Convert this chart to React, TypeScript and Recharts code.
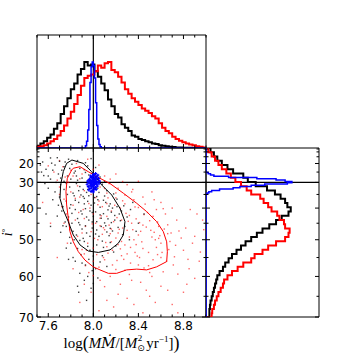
import React from 'react';
import { ScatterChart, Scatter, XAxis, YAxis, ReferenceLine } from 'recharts';

// ---------- axes ----------
const X_MIN = 7.5;
const X_MAX = 9.0;
const I_TOP = 0;
const I_BOTTOM = 70;
const xTicks = [7.5, 7.6, 7.7, 7.8, 7.9, 8.0, 8.1, 8.2, 8.3, 8.4, 8.5, 8.6, 8.7, 8.8, 8.9, 9.0];
const xMajor = [7.6, 8.0, 8.4, 8.8];
const iTicks = [5, 10, 15, 20, 25, 30, 35, 40, 45, 50, 55, 60, 65, 70];
const iMajor = [20, 30, 40, 50, 60, 70];
const refX = 8.0;
const refI = 30;
const COUNT_MAX = 100;

// ---------- top histograms (x = log M Mdot) ----------
const topBinStart = 7.5;
const topBinWidth = 0.03;
const topBlack = [2, 4, 6, 9, 12, 17, 22, 30, 37, 44, 52, 57, 65, 70, 76, 73, 74, 68, 63, 57, 51, 43, 37, 30, 27, 21, 18, 15, 11, 10, 8, 7, 6, 5, 4, 3.5, 2.5, 2, 1.5, 1.2, 0.8, 0.5, 0.4, 0.3, 0.3, 0.2, 0.1, 0.1, 0, 0];
const topRed = [1, 1.5, 2.5, 4, 6, 8, 11, 15, 20, 26, 32, 39, 47, 55, 62, 64, 65, 68, 73, 71, 75, 76, 69, 67, 63, 58, 52, 48, 44, 41, 38, 35, 33, 31, 28, 26, 22, 18, 15, 13, 10, 8, 6.5, 5, 4, 3, 2.5, 1.5, 1, 0.5];
const topBlueStart = 7.93;
const topBlueWidth = 0.01;
const topBlue = [2, 6, 16, 34, 58, 72, 76, 73, 62, 40, 20, 8, 3, 1];

// ---------- side histograms (bins in cos i) ----------
const sideBinStart = 0.34;
const sideBinWidth = 0.0165;
const sideBlack = [3, 3, 3.5, 4, 5, 6, 7, 8, 9, 10, 12, 15, 17, 20, 23, 27, 31, 35, 40, 45, 50, 56, 62, 67, 73, 75, 72, 70, 66, 61, 54, 44, 37, 33, 24, 19, 14, 10, 7, 4];
const sideRed = [5, 5.5, 7, 8, 9.5, 11, 13, 15, 16, 19, 23, 28, 33, 40, 43, 50, 55, 62, 70, 73, 74, 70, 69, 65, 63, 58, 55, 51, 48, 40, 36, 31, 26, 22, 18, 14, 11, 8, 5, 2];
const sideBlueStart = 0.82;
const sideBlueWidth = 0.005;
const sideBlue = [1, 2.5, 5, 12, 24, 30, 40, 52, 72, 76, 70, 62, 45, 20, 7, 4, 2];

// ---------- contours (x, i in degrees) ----------
const blackContour: [number, number][] = [
  [7.81, 17.6], [7.91, 19.9], [7.985, 24.8], [8.074, 31.1], [8.163, 35.2], [8.237, 40.1], [8.281, 44.5],
  [8.266, 48.6], [8.222, 51.0], [8.148, 52.9], [8.044, 53.6], [7.955, 53.2], [7.882, 51.5], [7.822, 48.6],
  [7.778, 44.5], [7.733, 40.6], [7.704, 36.5], [7.71, 31.1], [7.733, 24.8], [7.763, 19.9], [7.81, 17.6],
];
const redContour: [number, number][] = [
  [7.822, 22.9], [7.882, 22.0], [7.955, 24.8], [8.059, 28.1], [8.148, 30.5], [8.266, 34.5], [8.385, 38.3],
  [8.473, 41.2], [8.562, 44.5], [8.621, 47.6], [8.651, 50.6], [8.657, 53.4], [8.651, 56.1], [8.562, 57.5],
  [8.473, 58.3], [8.385, 58.1], [8.296, 58.3], [8.207, 59.2], [8.133, 59.2], [8.059, 58.3], [7.999, 57.5],
  [7.926, 55.7], [7.867, 53.4], [7.822, 50.6], [7.793, 47.6], [7.778, 43.4], [7.763, 38.9], [7.757, 33.9],
  [7.769, 28.1], [7.808, 23.9], [7.822, 22.9],
];

// ---------- scatter samples (x, i in degrees) ----------
const blackDots: [number, number][] = [
  [7.62, 16], [7.78, 17], [7.86, 18], [7.55, 19], [7.93, 19.5], [7.7, 18.5], [7.98, 16.5],
  [7.66, 21], [7.74, 22], [7.81, 20.5], [7.88, 23], [7.95, 21.5], [7.58, 23.5], [7.84, 24.5], [7.72, 24], [8.02, 22.5], [7.53, 21],
  [7.69, 26], [7.77, 27], [7.83, 25.5], [7.9, 28], [7.96, 26.5], [8.06, 27.5], [7.62, 28.5], [7.74, 29.5], [7.86, 29], [7.93, 25.2], [7.56, 26.8], [8.1, 29.6],
  [7.71, 31], [7.79, 32], [7.85, 30.5], [7.91, 33], [7.97, 31.5], [8.04, 32.5], [8.12, 33.5], [7.66, 34], [7.82, 34.5], [7.88, 31.8], [7.94, 34.2], [8.08, 30.8], [7.6, 32.5], [8.18, 34.8],
  [7.7, 36], [7.76, 37.5], [7.83, 35.5], [7.87, 38], [7.92, 36.5], [7.98, 39], [8.03, 35.8], [8.09, 37.2], [8.15, 38.5], [8.21, 36.8], [7.73, 39.5], [7.8, 38.8], [7.95, 37.6], [8.01, 36.2], [8.06, 39.7], [7.64, 37], [8.27, 39.2], [7.89, 35.2],
  [7.72, 41], [7.78, 43], [7.84, 40.5], [7.9, 42], [7.96, 44], [8.02, 41.3], [8.07, 43.4], [8.13, 40.6], [8.19, 42.5], [8.24, 44.2], [7.75, 44.6], [7.87, 44.8], [7.93, 40.2], [8.0, 42.8], [8.1, 44.9], [7.81, 41.8], [8.16, 41.4], [7.68, 42.7], [8.3, 43],
  [7.76, 46], [7.82, 47.5], [7.88, 45.5], [7.94, 48], [7.99, 46.5], [8.05, 49], [8.11, 45.8], [8.17, 47.4], [8.22, 46.3], [7.79, 49.3], [7.91, 49.6], [8.03, 47.1], [8.14, 48.8], [7.85, 48.6], [7.71, 47.8], [8.26, 48.5],
  [7.8, 51], [7.86, 52.5], [7.92, 50.5], [7.97, 53], [8.03, 51.5], [8.09, 52.2], [8.15, 50.8], [7.89, 54.2], [8.0, 54.6], [7.76, 52.4], [8.2, 51.8], [7.95, 51.9],
  [7.84, 56], [7.93, 57], [7.99, 58.5], [8.06, 56.2], [7.88, 59.2], [8.12, 57.4], [7.78, 55.5],
  [7.92, 61], [7.98, 63], [7.86, 62.5], [8.04, 60.4],
  [8.35, 38], [8.4, 45], [8.32, 50], [7.52, 35], [7.58, 42], [7.62, 46], [8.45, 42],
  [7.74, 33], [7.77, 35], [7.79, 40], [7.81, 45], [7.83, 50], [7.85, 27], [7.87, 33.5], [7.89, 41], [7.9, 46.8], [7.92, 38.5],
  [7.94, 43], [7.96, 35.5], [7.97, 49], [7.99, 41.5], [8.01, 38.2], [8.03, 44.5], [8.05, 34.2], [8.07, 46], [8.09, 41.9], [8.11, 38],
  [8.13, 43.6], [8.15, 46.6], [8.17, 40], [8.19, 44], [8.21, 39.5], [8.23, 42], [7.76, 30.5], [7.8, 28.5], [7.84, 37.2], [7.86, 43.5],
  [7.88, 50.2], [7.91, 35.8], [7.93, 45.8], [7.95, 33], [7.97, 41], [7.99, 44.6], [8.02, 48.3], [8.04, 37], [8.06, 42.3], [8.08, 50.4],
  [8.1, 35.6], [8.12, 47.7], [8.14, 39.3], [8.16, 44.8], [7.73, 45.8], [7.69, 39], [7.67, 30], [7.64, 24], [7.6, 27], [7.57, 30.5],
  [7.54, 25], [7.63, 19.8], [7.68, 15.8], [7.75, 19], [7.71, 28], [7.79, 23], [7.92, 23.7], [7.82, 55], [7.9, 56.5], [7.96, 55.5],
  [8.02, 58], [7.95, 60], [8.0, 61.8], [8.08, 54.5], [8.18, 53.5], [8.25, 41], [8.28, 46], [8.33, 40.5], [8.38, 47.5], [7.87, 64], [7.94, 66],
];
const redDots: [number, number][] = [
  [7.7, 18], [7.85, 20], [7.95, 17], [8.05, 21], [7.6, 21.5],
  [7.8, 24], [7.9, 26], [8.0, 23.5], [8.1, 27], [7.75, 27.5], [8.2, 26], [7.65, 25],
  [7.78, 30], [7.86, 31.5], [7.96, 29], [8.06, 32], [8.14, 30.5], [8.22, 32.5], [8.3, 31], [7.7, 32], [8.4, 29.5],
  [7.8, 34], [7.88, 36], [7.98, 35], [8.05, 37.5], [8.12, 34.5], [8.2, 36.3], [8.28, 35.2], [8.36, 37], [8.44, 36], [7.74, 36.8], [8.52, 34], [8.6, 38],
  [7.82, 39], [7.91, 40.5], [8.0, 42], [8.08, 39.5], [8.16, 41], [8.24, 40], [8.32, 42.5], [8.4, 39.8], [8.48, 41.5], [8.56, 40.5], [7.76, 42], [8.12, 42.8], [8.28, 38.5], [8.64, 42], [8.7, 40], [7.96, 38.4],
  [7.84, 44], [7.93, 46], [8.02, 45], [8.1, 47], [8.18, 44.5], [8.26, 46.5], [8.34, 45], [8.42, 47.5], [8.5, 44.2], [8.58, 46], [8.66, 45.5], [7.79, 47], [8.06, 43.4], [8.22, 48], [8.38, 43.6], [8.54, 47.8], [8.74, 44], [8.82, 46.5], [7.98, 47.6], [8.3, 47.2], [8.14, 45.6],
  [7.86, 49], [7.95, 51], [8.04, 50], [8.12, 52], [8.2, 49.5], [8.28, 51.5], [8.36, 50], [8.44, 52.5], [8.52, 49.2], [8.6, 51], [8.68, 50.5], [7.9, 52.8], [8.08, 48.4], [8.24, 52.6], [8.4, 48.6], [8.56, 52.2], [8.78, 49.5], [8.88, 51], [8.16, 50.6], [8.32, 49.2], [8.0, 52.4],
  [7.92, 54], [8.0, 56], [8.09, 55], [8.17, 57], [8.25, 54.5], [8.33, 56.5], [8.41, 55], [8.49, 57.2], [8.57, 54.2], [8.65, 56], [8.05, 57.6], [8.21, 55.8], [8.37, 53.6], [8.53, 55.6], [8.72, 54.8], [8.84, 55.5], [8.95, 53.5], [8.13, 53.8], [8.45, 57.8],
  [7.96, 59], [8.06, 61], [8.15, 60], [8.24, 62], [8.32, 59.5], [8.42, 61.5], [8.52, 60], [8.62, 58.8], [8.75, 59.4], [8.9, 60.5], [8.1, 62.6], [8.28, 58.4],
  [7.98, 64], [8.12, 66], [8.22, 64.5], [8.36, 67], [8.5, 65], [8.66, 63.5], [8.05, 68.5], [8.44, 69], [8.8, 64], [7.88, 66.5],
  [7.55, 38], [7.62, 45], [8.92, 42], [8.98, 47], [8.86, 40.5], [7.68, 55], [8.7, 67],
  [7.84, 36.5], [7.87, 41.5], [7.9, 48], [7.92, 43.5], [7.94, 53], [7.97, 40], [7.99, 45.2], [8.01, 49.6], [8.03, 54.2], [8.04, 38.8],
  [8.07, 42.6], [8.09, 46.4], [8.11, 50.8], [8.13, 36.3], [8.15, 48.2], [8.17, 53], [8.19, 39], [8.21, 43.2], [8.23, 46.9], [8.25, 50.5],
  [8.27, 55.5], [8.29, 41.8], [8.31, 44.4], [8.33, 52.2], [8.35, 47], [8.37, 39.6], [8.39, 54.6], [8.41, 44.8], [8.43, 50.6], [8.45, 42.2],
  [8.47, 46.2], [8.49, 53.6], [8.51, 47.2], [8.53, 42.8], [8.55, 50], [8.57, 44.6], [8.59, 48.8], [8.61, 53.6], [8.63, 46.8], [8.67, 52.8],
  [8.69, 48], [8.71, 57], [8.73, 51.6], [8.76, 47.4], [8.8, 53], [8.85, 58], [8.9, 49], [8.94, 56], [8.97, 44], [8.83, 62],
  [8.6, 62.5], [8.47, 63.5], [8.34, 61], [8.2, 58.2], [8.0, 59.8], [7.93, 57.2], [8.18, 67.6], [8.3, 65.5], [8.55, 66.5], [8.75, 69],
  [7.92, 62], [7.82, 58], [7.77, 51], [7.74, 45], [7.72, 39.5], [7.7, 35], [7.68, 29], [7.73, 22], [7.82, 27], [7.92, 33.5],
  [8.02, 36.2], [8.12, 38.4], [8.2, 34.4], [8.26, 37.4], [8.34, 34], [8.46, 38.6], [8.54, 37], [8.62, 40.2], [8.1, 32.6], [8.02, 27.8],
  [8.15, 28.5], [8.26, 29.6], [8.35, 33], [7.88, 28.3], [7.98, 31.6], [8.06, 45.8], [8.16, 46.8], [8.22, 51.4], [8.38, 51.4], [8.44, 45.6],
  [8.58, 49.6], [8.66, 48.2], [8.25, 44], [8.1, 55.6], [8.3, 54], [8.4, 57], [8.5, 59], [8.6, 55],
];
const blueDots: [number, number][] = [
  [8.0, 30], [7.99, 29], [8.01, 31], [7.98, 30.5], [8.02, 29.5], [7.995, 28], [8.005, 32], [7.97, 29.2], [8.03, 30.8],
  [7.985, 31.6], [8.015, 28.4], [7.96, 30.2], [8.04, 29.8], [7.99, 27.2], [8.01, 32.8], [7.975, 31.2], [8.025, 28.8],
  [7.98, 27.8], [8.02, 32.2], [7.965, 28.6], [8.035, 31.6], [7.995, 33.4], [8.005, 26.8], [7.955, 31.8], [8.045, 28.2],
  [7.97, 32.6], [8.03, 27.4], [7.985, 29.6], [8.015, 30.4], [7.99, 30.8], [8.01, 29.2], [7.95, 29.4], [8.05, 30.6],
  [7.975, 27.0], [8.025, 33.0], [7.96, 33.2], [8.04, 26.6], [8.0, 34.0], [8.0, 26.2], [7.945, 30.8], [8.055, 29.4],
  [7.98, 33.8], [8.02, 25.8], [7.99, 31.4], [8.01, 28.6], [7.97, 30.0], [8.03, 30.0], [8.0, 28.8], [8.0, 31.2],
  [7.985, 32.4], [8.015, 27.6],
];

// ---------- helpers ----------
const cosd = (d: number) => Math.cos((d * Math.PI) / 180);
const Y_DOMAIN: [number, number] = [cosd(I_BOTTOM), cosd(I_TOP)];
const iTickVals = iTicks.map(cosd);
const toDeg = (c: number) => Math.round((Math.acos(Math.min(1, c)) * 180) / Math.PI);

const toXY = (arr: [number, number][]) => arr.map(([x, i]) => ({ x, y: cosd(i) }));

function stepH(start: number, width: number, counts: number[], lo: number, hi: number) {
  const pts: { x: number; y: number }[] = [];
  if (start > lo) pts.push({ x: lo, y: 0 });
  pts.push({ x: start, y: 0 });
  counts.forEach((c, k) => {
    const a = start + k * width;
    pts.push({ x: a, y: c });
    pts.push({ x: a + width, y: c });
  });
  const end = start + counts.length * width;
  pts.push({ x: end, y: 0 });
  if (end < hi - 1e-9) pts.push({ x: hi, y: 0 });
  return pts;
}
const stepV = (start: number, width: number, counts: number[], lo: number, hi: number) =>
  stepH(start, width, counts, lo, hi).map((p) => ({ x: p.y, y: p.x }));

const NoDot = () => <g />;
const BlackDot = (p: any) => <rect x={p.cx - 0.7} y={p.cy - 0.7} width={1.4} height={1.4} fill="#000" fillOpacity={0.75} />;
const RedDot = (p: any) => <rect x={p.cx - 0.7} y={p.cy - 0.7} width={1.4} height={1.4} fill="#ff0000" fillOpacity={0.6} />;
const BlueDot = (p: any) => (
  <path d={`M${p.cx - 1.5},${p.cy}h3M${p.cx},${p.cy - 1.5}v3`} stroke="#0000ff" strokeWidth={1.2} />
);

const TICK_FONT = { fontFamily: 'DejaVu Sans', fontSize: 12, fill: '#000' };

function makeXTick(side: 'bottom' | 'top', labels: boolean) {
  return (props: any) => {
    const { x, y, payload } = props;
    const v = payload.value;
    const major = xMajor.some((m) => Math.abs(m - v) < 1e-6);
    const len = major ? 4 : 2.5;
    const dir = side === 'bottom' ? -1 : 1;
    return (
      <g>
        <line x1={x} x2={x} y1={y} y2={y + dir * len} stroke="#000" strokeWidth={1} />
        {labels && major ? (
          <text x={x} y={y + 13} textAnchor="middle" {...TICK_FONT}>
            {v.toFixed(1)}
          </text>
        ) : null}
      </g>
    );
  };
}
function makeYTick(side: 'left' | 'right', labels: boolean) {
  return (props: any) => {
    const { x, y, payload } = props;
    const deg = toDeg(payload.value);
    const major = iMajor.includes(deg);
    const len = major ? 4 : 2.5;
    const dir = side === 'left' ? 1 : -1;
    return (
      <g>
        <line x1={x} x2={x + dir * len} y1={y} y2={y} stroke="#000" strokeWidth={1} />
        {labels && major ? (
          <text x={x - 3} y={y + 4.5} textAnchor="end" {...TICK_FONT}>
            {deg}
          </text>
        ) : null}
      </g>
    );
  };
}

const XLabel = (props: any) => {
  const vb = props.viewBox || { x: 37, y: 177, width: 169 };
  const cx = vb.x + vb.width / 2;
  const by = vb.y + 31;
  return (
    <text x={cx} y={by} textAnchor="middle" fontFamily="Liberation Serif, DejaVu Serif" fontSize={15} fill="#000">
      <tspan>log</tspan>
      <tspan fontSize={18} dy={1}>(</tspan>
      <tspan fontStyle="italic" dy={-1}>M</tspan>
      <tspan fontStyle="italic" fontFamily="DejaVu Serif" fontSize={14}>Ṁ</tspan>
      <tspan>/[</tspan>
      <tspan fontStyle="italic">M</tspan>
      <tspan fontSize={9} dy={3} fontFamily="DejaVu Sans">⊙</tspan>
      <tspan fontSize={9} dx={-7} dy={-10}>2</tspan>
      <tspan dy={7} dx={4}>yr</tspan>
      <tspan fontSize={9} dy={-6}>−1</tspan>
      <tspan dy={6}>]</tspan>
      <tspan fontSize={18} dy={1}>)</tspan>
    </text>
  );
};
const YLabel = (props: any) => {
  const vb = props.viewBox || { x: 0, y: 8, width: 37, height: 169 };
  const cy = vb.y + vb.height / 2;
  const cx = 12;
  return (
    <text x={cx} y={cy} transform={`rotate(-90 ${cx} ${cy})`} textAnchor="middle" fontFamily="Liberation Serif, DejaVu Serif" fontSize={14} fill="#000">
      <tspan fontStyle="italic">i</tspan>
      <tspan fontSize={9} dy={-4}>°</tspan>
    </text>
  );
};

const AXIS_LINE = { stroke: '#000', strokeWidth: 1 };

export default function App() {
  const topBlackPts = stepH(topBinStart, topBinWidth, topBlack, X_MIN, X_MAX);
  const topRedPts = stepH(topBinStart, topBinWidth, topRed, X_MIN, X_MAX);
  const topBluePts = stepH(topBlueStart, topBlueWidth, topBlue, X_MIN, X_MAX);
  const sideBlackPts = stepV(sideBinStart, sideBinWidth, sideBlack, Y_DOMAIN[0], Y_DOMAIN[1]);
  const sideRedPts = stepV(sideBinStart, sideBinWidth, sideRed, Y_DOMAIN[0], Y_DOMAIN[1]);
  const sideBluePts = stepV(sideBlueStart, sideBlueWidth, sideBlue, Y_DOMAIN[0], Y_DOMAIN[1]);

  return (
    <div style={{ position: 'absolute', left: 0, top: 0, width: 358, height: 358, background: '#fff' }}>
      {/* top histogram */}
      <div style={{ position: 'absolute', left: 0, top: 30 }}>
        <ScatterChart width={210} height={119} margin={{ top: 4, right: 3, bottom: 0, left: 0 }}>
          <XAxis xAxisId="b" type="number" dataKey="x" domain={[X_MIN, X_MAX]} ticks={xTicks} interval={0} allowDataOverflow height={1} orientation="bottom" axisLine={AXIS_LINE} tickLine={false} tickSize={0} tickMargin={0} tick={makeXTick('bottom', false)} />
          <XAxis xAxisId="t" type="number" dataKey="x" domain={[X_MIN, X_MAX]} ticks={xTicks} interval={0} allowDataOverflow height={1} orientation="top" axisLine={AXIS_LINE} tickLine={false} tickSize={0} tickMargin={0} tick={makeXTick('top', false)} />
          <YAxis yAxisId="l" type="number" dataKey="y" domain={[0, COUNT_MAX]} allowDataOverflow width={37} orientation="left" axisLine={AXIS_LINE} tickLine={false} tick={false} />
          <YAxis yAxisId="r" type="number" dataKey="y" domain={[0, COUNT_MAX]} allowDataOverflow width={1} orientation="right" axisLine={AXIS_LINE} tickLine={false} tick={false} />
          <Scatter xAxisId="t" yAxisId="r" data={[{ x: X_MIN, y: 0 }]} shape={NoDot} isAnimationActive={false} />
          <Scatter xAxisId="b" yAxisId="l" data={topBlackPts} line={{ stroke: '#000', strokeWidth: 2 }} shape={NoDot} isAnimationActive={false} />
          <Scatter xAxisId="b" yAxisId="l" data={topRedPts} line={{ stroke: '#ff0000', strokeWidth: 2 }} shape={NoDot} isAnimationActive={false} />
          <Scatter xAxisId="b" yAxisId="l" data={topBluePts} line={{ stroke: '#0000ff', strokeWidth: 1.5 }} shape={NoDot} isAnimationActive={false} />
          <ReferenceLine xAxisId="b" yAxisId="l" x={refX} stroke="#000" strokeWidth={1.2} />
        </ScatterChart>
      </div>

      {/* main scatter */}
      <div style={{ position: 'absolute', left: 0, top: 140 }}>
        <ScatterChart width={210} height={218} margin={{ top: 7, right: 3, bottom: 0, left: 0 }}>
          <XAxis xAxisId="b" type="number" dataKey="x" domain={[X_MIN, X_MAX]} ticks={xTicks} interval={0} allowDataOverflow height={41} orientation="bottom" axisLine={AXIS_LINE} tickLine={false} tickSize={0} tickMargin={0} tick={makeXTick('bottom', true)} label={<XLabel />} />
          <XAxis xAxisId="t" type="number" dataKey="x" domain={[X_MIN, X_MAX]} ticks={xTicks} interval={0} allowDataOverflow height={1} orientation="top" axisLine={AXIS_LINE} tickLine={false} tickSize={0} tickMargin={0} tick={makeXTick('top', false)} />
          <YAxis yAxisId="l" type="number" dataKey="y" domain={Y_DOMAIN} ticks={iTickVals} interval={0} allowDataOverflow width={37} orientation="left" axisLine={AXIS_LINE} tickLine={false} tickSize={0} tickMargin={0} tick={makeYTick('left', true)} label={<YLabel />} />
          <YAxis yAxisId="r" type="number" dataKey="y" domain={Y_DOMAIN} ticks={iTickVals} interval={0} allowDataOverflow width={1} orientation="right" axisLine={AXIS_LINE} tickLine={false} tickSize={0} tickMargin={0} tick={makeYTick('right', false)} />
          <Scatter xAxisId="t" yAxisId="r" data={[{ x: X_MIN, y: Y_DOMAIN[0] }]} shape={NoDot} isAnimationActive={false} />
          <Scatter xAxisId="b" yAxisId="l" data={toXY(redDots)} shape={RedDot} isAnimationActive={false} />
          <Scatter xAxisId="b" yAxisId="l" data={toXY(blackDots)} shape={BlackDot} isAnimationActive={false} />
          <Scatter xAxisId="b" yAxisId="l" data={toXY(redContour)} line={{ stroke: '#ff0000', strokeWidth: 1 }} shape={NoDot} isAnimationActive={false} />
          <Scatter xAxisId="b" yAxisId="l" data={toXY(blackContour)} line={{ stroke: '#000', strokeWidth: 1 }} shape={NoDot} isAnimationActive={false} />
          <ReferenceLine xAxisId="b" yAxisId="l" x={refX} stroke="#000" strokeWidth={1.2} />
          <ReferenceLine xAxisId="b" yAxisId="l" y={cosd(refI)} stroke="#000" strokeWidth={1.2} />
          <Scatter xAxisId="b" yAxisId="l" data={toXY(blueDots)} shape={BlueDot} isAnimationActive={false} />
        </ScatterChart>
      </div>

      {/* side histogram */}
      <div style={{ position: 'absolute', left: 200, top: 140 }}>
        <ScatterChart width={124} height={218} margin={{ top: 7, right: 4, bottom: 40, left: 5 }}>
          <XAxis xAxisId="b" type="number" dataKey="x" domain={[0, COUNT_MAX]} allowDataOverflow height={1} orientation="bottom" axisLine={AXIS_LINE} tickLine={false} tick={false} />
          <XAxis xAxisId="t" type="number" dataKey="x" domain={[0, COUNT_MAX]} allowDataOverflow height={1} orientation="top" axisLine={AXIS_LINE} tickLine={false} tick={false} />
          <YAxis yAxisId="l" type="number" dataKey="y" domain={Y_DOMAIN} ticks={iTickVals} interval={0} allowDataOverflow width={1} orientation="left" axisLine={AXIS_LINE} tickLine={false} tickSize={0} tickMargin={0} tick={makeYTick('left', false)} />
          <YAxis yAxisId="r" type="number" dataKey="y" domain={Y_DOMAIN} ticks={iTickVals} interval={0} allowDataOverflow width={1} orientation="right" axisLine={AXIS_LINE} tickLine={false} tickSize={0} tickMargin={0} tick={makeYTick('right', false)} />
          <Scatter xAxisId="t" yAxisId="r" data={[{ x: 0, y: Y_DOMAIN[0] }]} shape={NoDot} isAnimationActive={false} />
          <Scatter xAxisId="b" yAxisId="l" data={sideBlackPts} line={{ stroke: '#000', strokeWidth: 2 }} shape={NoDot} isAnimationActive={false} />
          <Scatter xAxisId="b" yAxisId="l" data={sideRedPts} line={{ stroke: '#ff0000', strokeWidth: 2 }} shape={NoDot} isAnimationActive={false} />
          <Scatter xAxisId="b" yAxisId="l" data={sideBluePts} line={{ stroke: '#0000ff', strokeWidth: 1.5 }} shape={NoDot} isAnimationActive={false} />
          <ReferenceLine xAxisId="b" yAxisId="l" y={cosd(refI)} stroke="#000" strokeWidth={1.2} />
        </ScatterChart>
      </div>
    </div>
  );
}
